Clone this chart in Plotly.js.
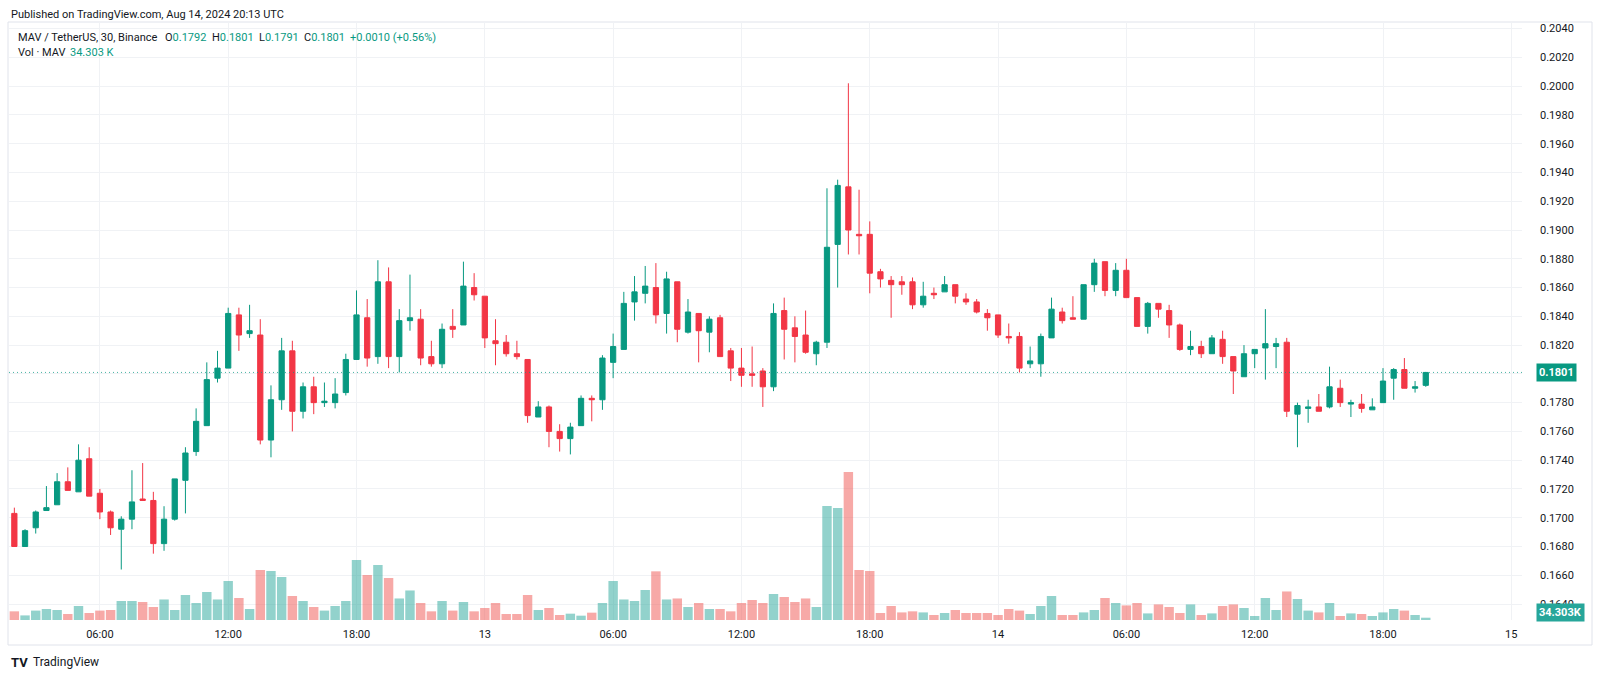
<!DOCTYPE html>
<html>
<head>
<meta charset="utf-8">
<script src="https://cdn.plot.ly/plotly-3.0.1.min.js"></script>
<style>
  html, body { margin: 0; padding: 0; background: #ffffff; }
  #chart { width: 1600px; height: 678px; }
</style>
</head>
<body>
<div id="chart"></div>
<script>
// ---- Data (MAV / TetherUS, 30 min, Binance) ----
const firstBar = '2024-08-12 02:00'; // first candle, then one every 30 minutes
const openPrices = [
  0.1703,0.1680,0.1693,0.1705,0.1709,0.1725,0.1718,0.1741,0.1717,0.1704,
  0.1692,0.1699,0.1713,0.1712,0.1682,0.1699,0.1726,0.1746,0.1764,0.1797,
  0.1804,0.1841,0.1828,0.1827,0.1754,0.1782,0.1816,0.1774,0.1791,0.1780,
  0.1780,0.1787,0.1810,0.1839,0.1812,0.1864,0.1812,0.1837,0.1838,0.1812,
  0.1807,0.1833,0.1834,0.1860,0.1854,0.1823,0.1822,0.1814,0.1810,0.1770,
  0.1777,0.1760,0.1755,0.1764,0.1783,0.1782,0.1808,0.1817,0.1850,0.1856,
  0.1860,0.1842,0.1864,0.1829,0.1842,0.1829,0.1839,0.1816,0.1804,0.1800,
  0.1802,0.1791,0.1844,0.1832,0.1827,0.1814,0.1822,0.1890,0.1930,0.1897,
  0.1897,0.1871,0.1865,0.1864,0.1864,0.1848,0.1856,0.1857,0.1862,0.1852,
  0.1850,0.1842,0.1841,0.1826,0.1826,0.1807,0.1807,0.1825,0.1843,0.1839,
  0.1838,0.1862,0.1878,0.1858,0.1872,0.1853,0.1833,0.1849,0.1844,0.1834,
  0.1817,0.1819,0.1814,0.1824,0.1812,0.1798,0.1814,0.1818,0.1819,0.1822,
  0.1772,0.1776,0.1777,0.1777,0.1790,0.1779,0.1779,0.1775,0.1780,0.1797,
  0.1803,0.1790,0.1792
];
const highPrices = [
  0.1707,0.1692,0.1705,0.1722,0.1731,0.1735,0.1751,0.1749,0.1720,0.1705,
  0.1701,0.1733,0.1738,0.1718,0.1708,0.1727,0.1749,0.1776,0.1808,0.1816,
  0.1846,0.1846,0.1848,0.1838,0.1792,0.1825,0.1823,0.1794,0.1798,0.1794,
  0.1797,0.1814,0.1858,0.1852,0.1879,0.1874,0.1845,0.1869,0.1845,0.1823,
  0.1835,0.1845,0.1878,0.1870,0.1854,0.1838,0.1827,0.1823,0.1810,0.1781,
  0.1778,0.1765,0.1766,0.1785,0.1785,0.1813,0.1828,0.1857,0.1868,0.1875,
  0.1877,0.1871,0.1864,0.1852,0.1842,0.1840,0.1841,0.1818,0.1818,0.1819,
  0.1804,0.1849,0.1853,0.1840,0.1844,0.1823,0.1929,0.1935,0.2002,0.1928,
  0.1906,0.1873,0.1868,0.1868,0.1867,0.1864,0.1860,0.1868,0.1862,0.1856,
  0.1852,0.1845,0.1841,0.1835,0.1829,0.1819,0.1828,0.1853,0.1846,0.1854,
  0.1862,0.1880,0.1878,0.1877,0.1880,0.1853,0.1850,0.1849,0.1848,0.1835,
  0.1830,0.1823,0.1827,0.1830,0.1812,0.1820,0.1817,0.1845,0.1825,0.1825,
  0.1780,0.1782,0.1786,0.1805,0.1796,0.1782,0.1786,0.1783,0.1804,0.1804,
  0.1811,0.1795,0.1801
];
const lowPrices = [
  0.1680,0.1680,0.1689,0.1705,0.1709,0.1719,0.1718,0.1715,0.1699,0.1688,
  0.1664,0.1692,0.1712,0.1675,0.1677,0.1698,0.1703,0.1743,0.1764,0.1794,
  0.1804,0.1816,0.1825,0.1751,0.1742,0.1775,0.1760,0.1769,0.1772,0.1777,
  0.1776,0.1785,0.1810,0.1805,0.1807,0.1804,0.1801,0.1830,0.1806,0.1805,
  0.1804,0.1825,0.1834,0.1851,0.1818,0.1806,0.1812,0.1810,0.1766,0.1770,
  0.1749,0.1746,0.1744,0.1764,0.1767,0.1775,0.1797,0.1817,0.1837,0.1849,
  0.1835,0.1828,0.1822,0.1828,0.1808,0.1815,0.1812,0.1795,0.1791,0.1791,
  0.1777,0.1788,0.1810,0.1808,0.1814,0.1806,0.1818,0.1860,0.1883,0.1883,
  0.1856,0.1860,0.1839,0.1855,0.1845,0.1846,0.1852,0.1857,0.1849,0.1848,
  0.1842,0.1830,0.1825,0.1821,0.1801,0.1804,0.1798,0.1825,0.1835,0.1838,
  0.1838,0.1857,0.1854,0.1854,0.1853,0.1833,0.1828,0.1839,0.1825,0.1816,
  0.1813,0.1811,0.1814,0.1807,0.1786,0.1798,0.1804,0.1796,0.1804,0.1770,
  0.1749,0.1766,0.1774,0.1776,0.1777,0.1770,0.1773,0.1775,0.1780,0.1782,
  0.1790,0.1787,0.1791
];
const closePrices = [
  0.1680,0.1691,0.1704,0.1707,0.1725,0.1719,0.1740,0.1715,0.1704,0.1693,
  0.1699,0.1711,0.1712,0.1682,0.1699,0.1727,0.1745,0.1767,0.1796,0.1804,
  0.1842,0.1827,0.1830,0.1754,0.1782,0.1816,0.1774,0.1791,0.1780,0.1781,
  0.1786,0.1810,0.1841,0.1811,0.1864,0.1812,0.1837,0.1839,0.1811,0.1807,
  0.1831,0.1831,0.1861,0.1855,0.1825,0.1821,0.1814,0.1812,0.1771,0.1777,
  0.1760,0.1755,0.1763,0.1783,0.1782,0.1811,0.1819,0.1849,0.1857,0.1861,
  0.1841,0.1866,0.1831,0.1843,0.1830,0.1838,0.1812,0.1804,0.1799,0.1799,
  0.1791,0.1842,0.1831,0.1826,0.1815,0.1822,0.1888,0.1931,0.1900,0.1896,
  0.1870,0.1866,0.1862,0.1862,0.1848,0.1854,0.1855,0.1862,0.1854,0.1850,
  0.1843,0.1839,0.1827,0.1825,0.1804,0.1809,0.1826,0.1845,0.1837,0.1838,
  0.1862,0.1877,0.1858,0.1872,0.1853,0.1833,0.1849,0.1845,0.1834,0.1817,
  0.1819,0.1814,0.1825,0.1812,0.1802,0.1814,0.1817,0.1821,0.1821,0.1774,
  0.1778,0.1777,0.1774,0.1791,0.1780,0.1780,0.1776,0.1777,0.1795,0.1803,
  0.1790,0.1791,0.1801
];
// volume in thousands of MAV
const volumeK = [
  130,69,141,165,150,90,210,105,141,150,
  285,285,270,195,308,150,375,255,420,308,
  585,330,165,750,735,645,360,285,195,141,
  210,285,900,675,825,630,323,443,255,130,
  285,141,270,130,180,255,90,90,375,150,
  180,75,95,65,110,255,585,308,285,450,
  730,308,323,195,255,165,165,130,255,300,
  255,390,345,270,323,195,1710,1680,2220,750,
  735,105,210,114,130,114,75,105,150,105,
  105,105,75,165,141,90,210,360,75,75,
  114,150,330,255,219,255,99,234,195,105,
  234,75,99,210,234,180,60,330,150,428,
  315,141,114,255,60,99,90,60,114,165,
  141,75,34.303
];
const priceTicks = [0.1640,0.1660,0.1680,0.1700,0.1720,0.1740,0.1760,0.1780,0.1800,0.1820,
  0.1840,0.1860,0.1880,0.1900,0.1920,0.1940,0.1960,0.1980,0.2000,0.2020,0.2040];
const timeTickValues = ['2024-08-12 06:00','2024-08-12 12:00','2024-08-12 18:00','2024-08-13 00:00',
  '2024-08-13 06:00','2024-08-13 12:00','2024-08-13 18:00','2024-08-14 00:00',
  '2024-08-14 06:00','2024-08-14 12:00','2024-08-14 18:00','2024-08-15 00:00'];
const timeTickLabels = ['06:00','12:00','18:00','13','06:00','12:00','18:00','14','06:00','12:00','18:00','15'];
const lastPrice = 0.1801;
const lastVolumeLabel = '34.303K';

// ---- Build ----
const UP = '#089981', DOWN = '#F23645';
const startMs = Date.parse(firstBar.replace(' ', 'T') + ':00Z');
const times = openPrices.map((_, i) => new Date(startMs + i * 1800000).toISOString().slice(0, 16).replace('T', ' '));
const volColors = closePrices.map((c, i) => c >= openPrices[i] ? 'rgba(38,166,154,0.5)' : 'rgba(239,83,80,0.5)');

// plot area in pixels
const PL = 9, PR = 1522, PT = 22, PB = 620;
const px = x => (x - PL) / (PR - PL);
const py = y => (PB - y) / (PB - PT);

const volTrace = {
  type: 'bar', x: times, y: volumeK, xaxis: 'x', yaxis: 'y',
  marker: { color: volColors, line: { width: 0 } }, hoverinfo: 'skip'
};
const candleTrace = {
  type: 'candlestick', x: times, open: openPrices, high: highPrices, low: lowPrices, close: closePrices,
  xaxis: 'x', yaxis: 'y2', whiskerwidth: 0,
  increasing: { line: { color: UP, width: 1 }, fillcolor: UP },
  decreasing: { line: { color: DOWN, width: 1 }, fillcolor: DOWN },
  hoverinfo: 'skip'
};

const axisFont = { family: 'Roboto, "Liberation Sans", sans-serif', size: 11, color: '#131722' };
const gridColor = '#f0f2f5';
const textFont = (size, color) => ({ family: 'Roboto, "Liberation Sans", sans-serif', size: size, color: color });

function label(x, y, text, color, size, anchor) {
  return { xref: 'paper', yref: 'paper', x: px(x), y: py(y), text: text, showarrow: false,
    xanchor: anchor || 'left', yanchor: 'middle', font: textFont(size || 11, color || '#131722') };
}

const annotations = [
  label(9, 14, 'Published on TradingView.com, Aug 14, 2024 20:13 UTC', '#131722', 11),
  label(16, 38, 'MAV / TetherUS, 30, Binance', '#131722', 11),
  label(163, 38, 'O<span style="color:' + UP + '">' + openPrices[openPrices.length-1].toFixed(4) + '</span>', '#131722', 11),
  label(210, 38, 'H<span style="color:' + UP + '">' + highPrices[highPrices.length-1].toFixed(4) + '</span>', '#131722', 11),
  label(257, 38, 'L<span style="color:' + UP + '">' + lowPrices[lowPrices.length-1].toFixed(4) + '</span>', '#131722', 11),
  label(302, 38, 'C<span style="color:' + UP + '">' + closePrices[closePrices.length-1].toFixed(4) + '</span>', '#131722', 11),
  label(348, 38, '+0.0010 (+0.56%)', UP, 11),
  label(16, 53, 'Vol · MAV', '#131722', 11),
  label(68, 53, '34.303 K', UP, 11),
  label(9, 662, '<b>TV</b>', '#131722', 13),
  label(31, 662, 'TradingView', '#131722', 12),
  { xref: 'paper', yref: 'y2', x: px(1557), y: lastPrice, text: '<b>' + lastPrice.toFixed(4) + '</b>',
    showarrow: false, xanchor: 'center', yanchor: 'middle', bgcolor: UP, borderpad: 2,
    font: textFont(11, '#ffffff') },
  { xref: 'paper', yref: 'paper', x: px(1560), y: py(612), text: '<b>' + lastVolumeLabel + '</b>',
    showarrow: false, xanchor: 'center', yanchor: 'middle', bgcolor: '#26a69a', borderpad: 2,
    font: textFont(11, '#ffffff') }
];

const shapes = [
  { type: 'rect', xref: 'paper', yref: 'paper', x0: px(8), x1: px(1592), y0: py(645), y1: py(22),
    line: { color: '#e0e3eb', width: 1 }, fillcolor: 'rgba(0,0,0,0)', layer: 'below' },
  { type: 'line', xref: 'paper', yref: 'y2', x0: 0, x1: 1, y0: lastPrice, y1: lastPrice,
    line: { color: 'rgba(8,153,129,0.75)', width: 1, dash: '1px,3px' } }
];

const layout = {
  width: 1600, height: 678,
  margin: { l: PL, r: 1600 - PR, t: PT, b: 678 - PB, pad: 0 },
  paper_bgcolor: '#ffffff', plot_bgcolor: '#ffffff',
  showlegend: false, bargap: 0.12, boxgap: 0.3,
  xaxis: {
    type: 'date', range: ['2024-08-12 01:45', '2024-08-15 00:30'],
    tickmode: 'array', tickvals: timeTickValues, ticktext: timeTickLabels,
    showgrid: true, gridcolor: gridColor, gridwidth: 1, zeroline: false, showline: false,
    ticks: '', tickfont: axisFont, ticklabelstandoff: 6,
    rangeslider: { visible: false }, fixedrange: true
  },
  yaxis: {
    domain: [0, 1], range: [0, (PB - PT) * 15], visible: false, showgrid: false, fixedrange: true
  },
  yaxis2: {
    overlaying: 'y', side: 'right', range: [0.16289, 0.20446],
    tickmode: 'array', tickvals: priceTicks, ticktext: priceTicks.map(v => v.toFixed(4)),
    showgrid: true, gridcolor: gridColor, gridwidth: 1, zeroline: false, showline: false,
    ticks: '', tickfont: axisFont, ticklabelstandoff: 17, fixedrange: true
  },
  annotations: annotations,
  shapes: shapes
};

Plotly.newPlot('chart', [volTrace, candleTrace], layout, { displayModeBar: false, staticPlot: true });
</script>
</body>
</html>
